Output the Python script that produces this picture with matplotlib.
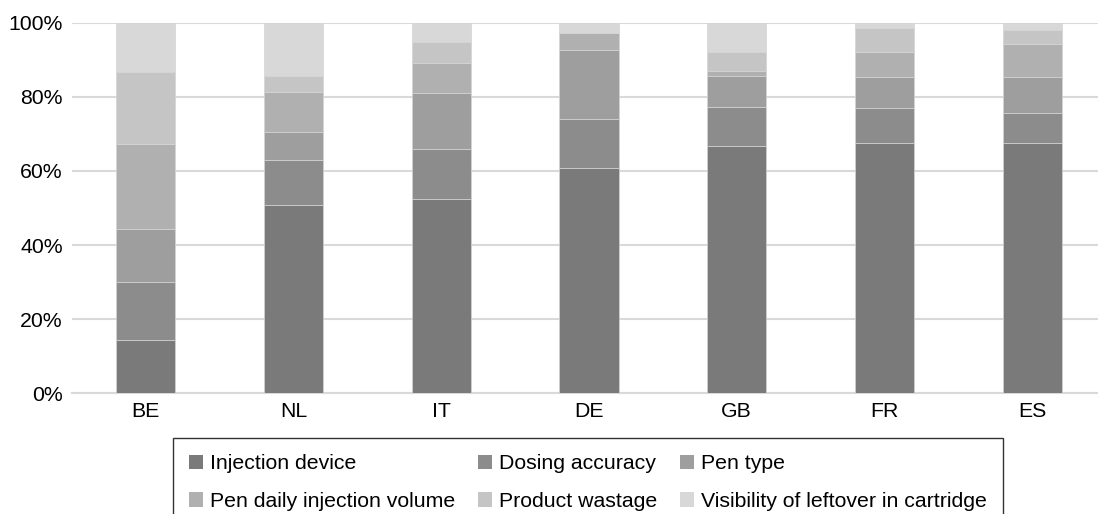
import matplotlib.pyplot as plt
from matplotlib.patches import Patch
import numpy as np

plt.rcParams['font.family'] = ['Liberation Sans', 'DejaVu Sans']

countries = ["BE", "NL", "IT", "DE", "GB", "FR", "ES"]
series = ["Injection device", "Dosing accuracy", "Pen type",
          "Pen daily injection volume", "Product wastage",
          "Visibility of leftover in cartridge"]

# shares per country (%)
injection_device = [14.3, 50.7, 52.3, 60.8, 66.6, 67.5, 67.5]
dosing_accuracy = [15.7, 12.3, 13.6, 13.1, 10.6, 9.5, 8.1]
pen_type = [14.4, 7.5, 15.1, 18.8, 8.3, 8.3, 9.7]
pen_daily_volume = [22.9, 10.7, 8.1, 4.4, 1.6, 6.7, 8.9]
product_wastage = [19.3, 4.3, 5.6, 0.0, 5.1, 6.7, 3.8]
visibility_leftover = [13.4, 14.5, 5.3, 2.9, 7.8, 1.3, 2.0]

colors = ["#7a7a7a", "#8c8c8c", "#9e9e9e", "#b0b0b0", "#c5c5c5", "#d8d8d8"]

data = [injection_device, dosing_accuracy, pen_type,
        pen_daily_volume, product_wastage, visibility_leftover]

fig = plt.figure(figsize=(10.98, 5.14), dpi=100)
ax = fig.add_axes([72 / 1098, 120.7 / 514, 1 - 72 / 1098, (491.3 - 120.7) / 514])

x = np.arange(len(countries))
bottom = np.zeros(len(countries))
for vals, col in zip(data, colors):
    vals = np.array(vals)
    ax.bar(x, vals, 0.4, bottom=bottom, color=col, edgecolor="#d4d4d4",
           linewidth=0.5, zorder=3)
    bottom += vals

ax.set_xlim(-0.5, 6.446)
ax.set_ylim(0, 100)
ax.set_yticks([0, 20, 40, 60, 80, 100])
ax.set_yticklabels([f"{v}%" for v in [0, 20, 40, 60, 80, 100]])
ax.set_xticks(x)
ax.set_xticklabels(countries)
ax.tick_params(length=0, labelsize=15.3, colors="black")
ax.tick_params(axis="y", pad=6.5)
ax.tick_params(axis="x", pad=6)
ax.grid(axis="y", color="#d9d9d9", linewidth=1.5, zorder=0)
for s in ["top", "right", "left"]:
    ax.spines[s].set_visible(False)
ax.spines["bottom"].set_color("#d9d9d9")
ax.spines["bottom"].set_linewidth(1.5)

# legend entries, reordered so rows read like the original
handles = [Patch(facecolor=c, edgecolor="none") for c in colors]
order = [0, 3, 1, 4, 2, 5]
leg = fig.legend([handles[i] for i in order], [series[i] for i in order],
                 ncol=3, loc="upper left", bbox_to_anchor=(173 / 1098, 1 - 438.3 / 514),
                 fontsize=15.3, frameon=True, fancybox=False, edgecolor="black",
                 handlelength=0.65, handleheight=0.65, handletextpad=0.32,
                 columnspacing=1.1, labelspacing=0.88, borderpad=0.75,
                 borderaxespad=0)
leg.get_frame().set_linewidth(1.0)

fig.savefig("out.png", dpi=100)
